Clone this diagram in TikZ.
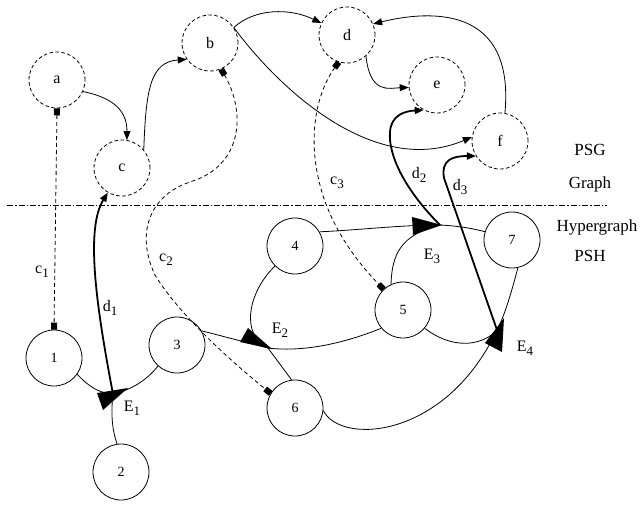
\documentclass[tikz,border=0pt]{standalone}
\usepackage{fontspec}
\setmainfont{Liberation Serif}
\usetikzlibrary{arrows.meta}
\newcommand\lsub[1]{\raisebox{-0.55ex}{\fontsize{13}{13}\selectfont #1}}
\begin{document}
\begin{tikzpicture}[x=1pt,y=-1pt,
 gnode/.style={circle,draw,dash pattern=on 3.5pt off 2.5pt,minimum size=56pt,inner sep=0pt,line width=0.8pt,font=\fontsize{16}{16}\selectfont},
 hnode/.style={circle,draw,minimum size=56pt,inner sep=0pt,line width=0.8pt,font=\fontsize{14}{14}\selectfont},
 gedge/.style={line width=0.8pt,-{Triangle[length=9pt,width=7pt]}},
 hedge/.style={line width=0.8pt},
 ctrl/.style={line width=0.8pt,dash pattern=on 4pt off 3pt,{Square[length=7pt,width=6pt]}-{Square[length=7pt,width=6pt]}},
 dline/.style={line width=1.8pt,-{Triangle[length=9pt,width=7pt]}},
 hyper/.style={fill=black},
 lab/.style={font=\fontsize{16}{16}\selectfont,inner sep=0pt},
 side/.style={font=\fontsize{17}{17}\selectfont,inner sep=0pt},
 sep/.style={line width=0.7pt,dash pattern=on 6pt off 2pt on 1.5pt off 2pt}]
\useasboundingbox (0,0) rectangle (640,504);
\fill[white] (0,0) rectangle (640,504);

% graph nodes
\node[gnode] (a) at (57,80) {a};
\node[gnode] (b) at (210,43) {b};
\node[gnode] (c) at (122,168) {c};
\node[gnode] (d) at (347,35) {d};
\node[gnode] (e) at (437,85) {e};
\node[gnode] (f) at (500,141) {f};

% hypergraph nodes
\node[hnode] (n1) at (54,358) {1};
\node[hnode] (n2) at (121,472) {2};
\node[hnode] (n3) at (177,345) {3};
\node[hnode] (n4) at (295,246) {4};
\node[hnode] (n5) at (403,310) {5};
\node[hnode] (n6) at (295,408) {6};
\node[hnode] (n7) at (512,240) {7};

% hyperedge junctions
\coordinate (E1) at (113,394);
\coordinate (E2) at (268,348);
\coordinate (E3) at (440,225);
\coordinate (E4) at (497,330);

% separator
\coordinate (sepL) at (7,205);
\coordinate (sepR) at (607,205);
\draw[sep] (sepL) -- (sepR);

% graph edges
\draw[gedge] (a.-24) .. controls (115,98) and (127,112) .. (c.80);
\draw[gedge] (c.40) .. controls (146,90) and (150,62) .. (b.215);
\draw[gedge] (b.33) .. controls (255,8) and (290,8) .. (d.155);
\draw[gedge] (b.33) .. controls (280,90) and (375,178) .. (f.172);
\draw[gedge] (d.-48) .. controls (370,95) and (390,88) .. (e.185);
\draw[gedge] (f.80) .. controls (515,5) and (430,10) .. (d.23);

% control (dashed) arcs
\draw[ctrl] (a.-90) -- (n1.90);
\draw[ctrl] (b.-67) .. controls (245,110) and (245,165) .. (190,182)
  .. controls (148,196) and (136,235) .. (155,275)
  .. controls (170,300) and (205,340) .. (n6.149);
\draw[ctrl] (d.-107) .. controls (315,95) and (308,140) .. (320,185)
  .. controls (330,225) and (355,260) .. (n5.133);

% thick links
\draw[dline] (E1) .. controls (95,300) and (86,228) .. (c.-120);
\draw[dline] (E3) .. controls (405,190) and (388,155) .. (390,132)
  .. controls (391,115) and (405,111) .. (e.-118);
\draw[dline] (E4) -- (444,178) .. controls (441,160) and (452,156) .. (f.212);

% hyperedges
\draw[hedge] (n1.-35) .. controls (90,388) and (100,393) .. (E1);
\draw[hedge] (n3.-132) .. controls (145,382) and (130,390) .. (E1);
\draw[hedge] (E1) .. controls (110,420) and (114,435) .. (n2.98);

\draw[hedge] (n3.30) -- (E2);
\draw[hedge] (n4.-135) .. controls (248,292) and (240,335) .. (E2);
\draw[hedge] (n5.-140) .. controls (340,345) and (300,352) .. (E2);
\draw[hedge] (E2) -- (n6.97);

\draw[hedge] (n4.30) .. controls (360,230) and (400,225) .. (E3);
\draw[hedge] (n5.115) .. controls (392,255) and (400,235) .. (E3);
\draw[hedge] (E3) .. controls (460,226) and (475,229) .. (n7.163);

\draw[hedge] (n5.-40) .. controls (450,348) and (480,348) .. (E4);
\draw[hedge] (n7.-78) .. controls (512,290) and (505,315) .. (E4);
\draw[hedge] (n6.-5) .. controls (340,445) and (445,440) .. (E4);

% hyperedge heads
\fill[hyper] (97,393) -- (128,388) -- (103,410) -- cycle;
\fill[hyper] (240,342) -- (272,349) -- (248,328) -- cycle;
\fill[hyper] (412,217) -- (442,225) -- (413,235) -- cycle;
\fill[hyper] (485,343) -- (504,318) -- (502,352) -- cycle;

% labels
\node[lab] (lE1) at (132,408) {E\lsub{1}};
\node[lab] (lE2) at (280,330) {E\lsub{2}};
\node[lab] (lE3) at (432,256) {E\lsub{3}};
\node[lab] (lE4) at (525,348) {E\lsub{4}};
\node[lab] (lc1) at (42,272) {c\lsub{1}};
\node[lab] (lc2) at (166,260) {c\lsub{2}};
\node[lab] (lc3) at (337,183) {c\lsub{3}};
\node[lab] (ld1) at (110,308) {d\lsub{1}};
\node[lab] (ld2) at (419,175) {d\lsub{2}};
\node[lab] (ld3) at (460,187) {d\lsub{3}};

\node[side] (psg) at (590,150) {PSG};
\node[side] (gr) at (590,184) {Graph};
\node[side] (hg) at (597,227) {Hypergraph};
\node[side] (psh) at (590,256) {PSH};
\end{tikzpicture}
\end{document}
